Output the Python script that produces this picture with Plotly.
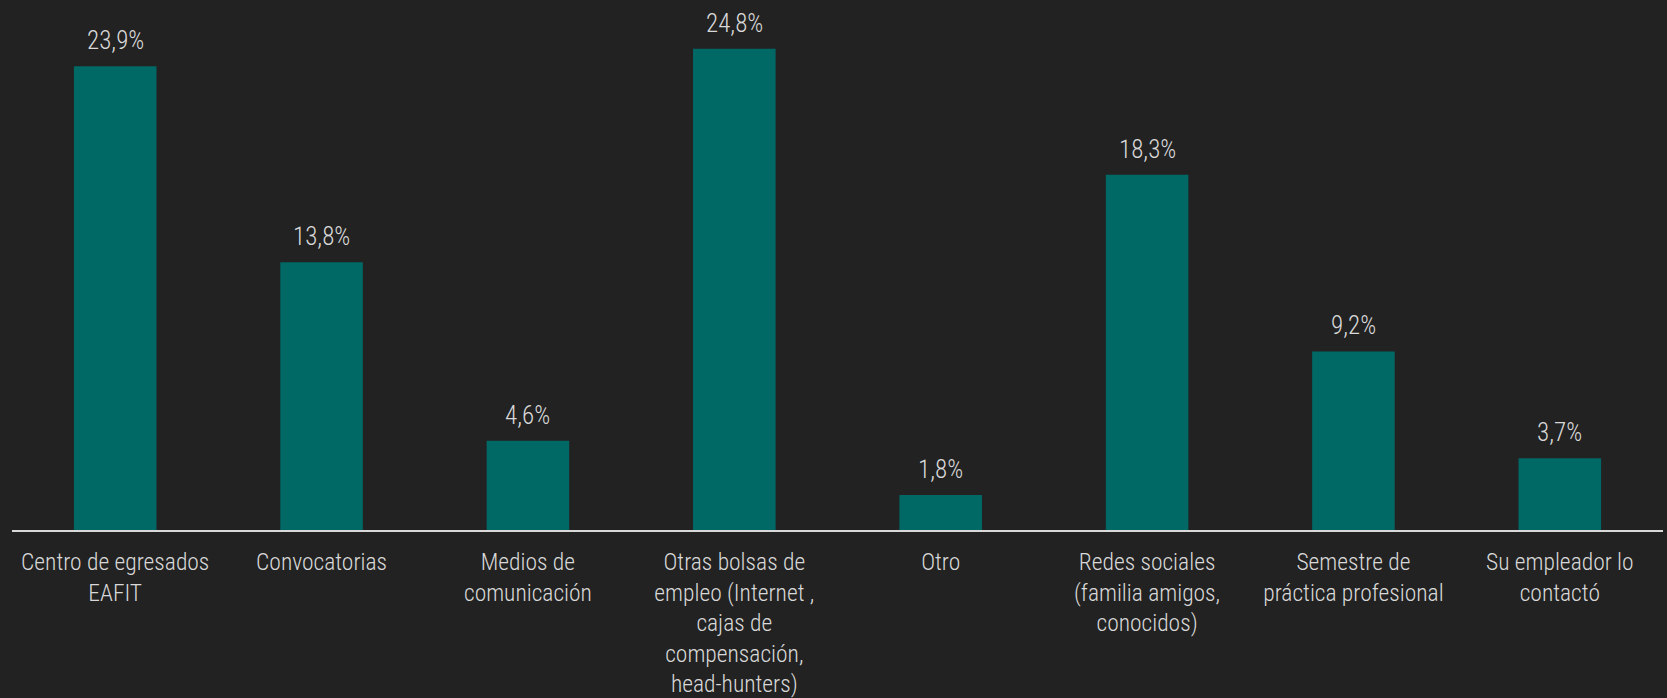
import plotly.graph_objects as go

categories = [
    "Centro de egresados<br>EAFIT",
    "Convocatorias",
    "Medios de<br>comunicación",
    "Otras bolsas de<br>empleo (Internet ,<br>cajas de<br>compensación,<br>head-hunters)",
    "Otro",
    "Redes sociales<br>(familia amigos,<br>conocidos)",
    "Semestre de<br>práctica profesional",
    "Su empleador lo<br>contactó",
]
values = [23.9, 13.8, 4.6, 24.8, 1.8, 18.3, 9.2, 3.7]
labels = ["23,9%", "13,8%", "4,6%", "24,8%", "1,8%", "18,3%", "9,2%", "3,7%"]

FONT = "Liberation Sans Narrow, Arial Narrow, Roboto Condensed, Liberation Sans, Arial, sans-serif"
TXT = "#d9d9d9"

fig = go.Figure(
    go.Bar(
        x=categories,
        y=values,
        marker=dict(color="#006966", line=dict(width=0)),
        cliponaxis=False,
        hoverinfo="skip",
    )
)

for c, v, t in zip(categories, values, labels):
    fig.add_annotation(
        x=c, y=v, text=t, showarrow=False,
        yanchor="bottom", yshift=9,
        font=dict(family=FONT, size=25, color=TXT, weight=300),
    )

fig.update_layout(
    width=1667,
    height=698,
    margin=dict(l=12, r=4, t=6, b=168, autoexpand=False),
    paper_bgcolor="#222222",
    plot_bgcolor="#222222",
    bargap=0.6,
    showlegend=False,
    font=dict(family=FONT, size=24, color=TXT),
)
fig.update_xaxes(
    showline=True,
    linecolor="#d9d9d9",
    linewidth=2,
    showgrid=False,
    ticks="",
    tickangle=0,
    automargin=False,
    ticklabelstandoff=10,
    tickfont=dict(family=FONT, size=23.5, color=TXT, weight=300),
    fixedrange=True,
)
fig.update_yaxes(
    range=[0, 27],
    visible=False,
    showgrid=False,
    zeroline=False,
    fixedrange=True,
)

fig.write_html(
    "out.html",
    config={"displayModeBar": False},
    post_script="document.body.style.margin='0';document.body.style.background='#222222';document.documentElement.style.background='#222222';",
)
